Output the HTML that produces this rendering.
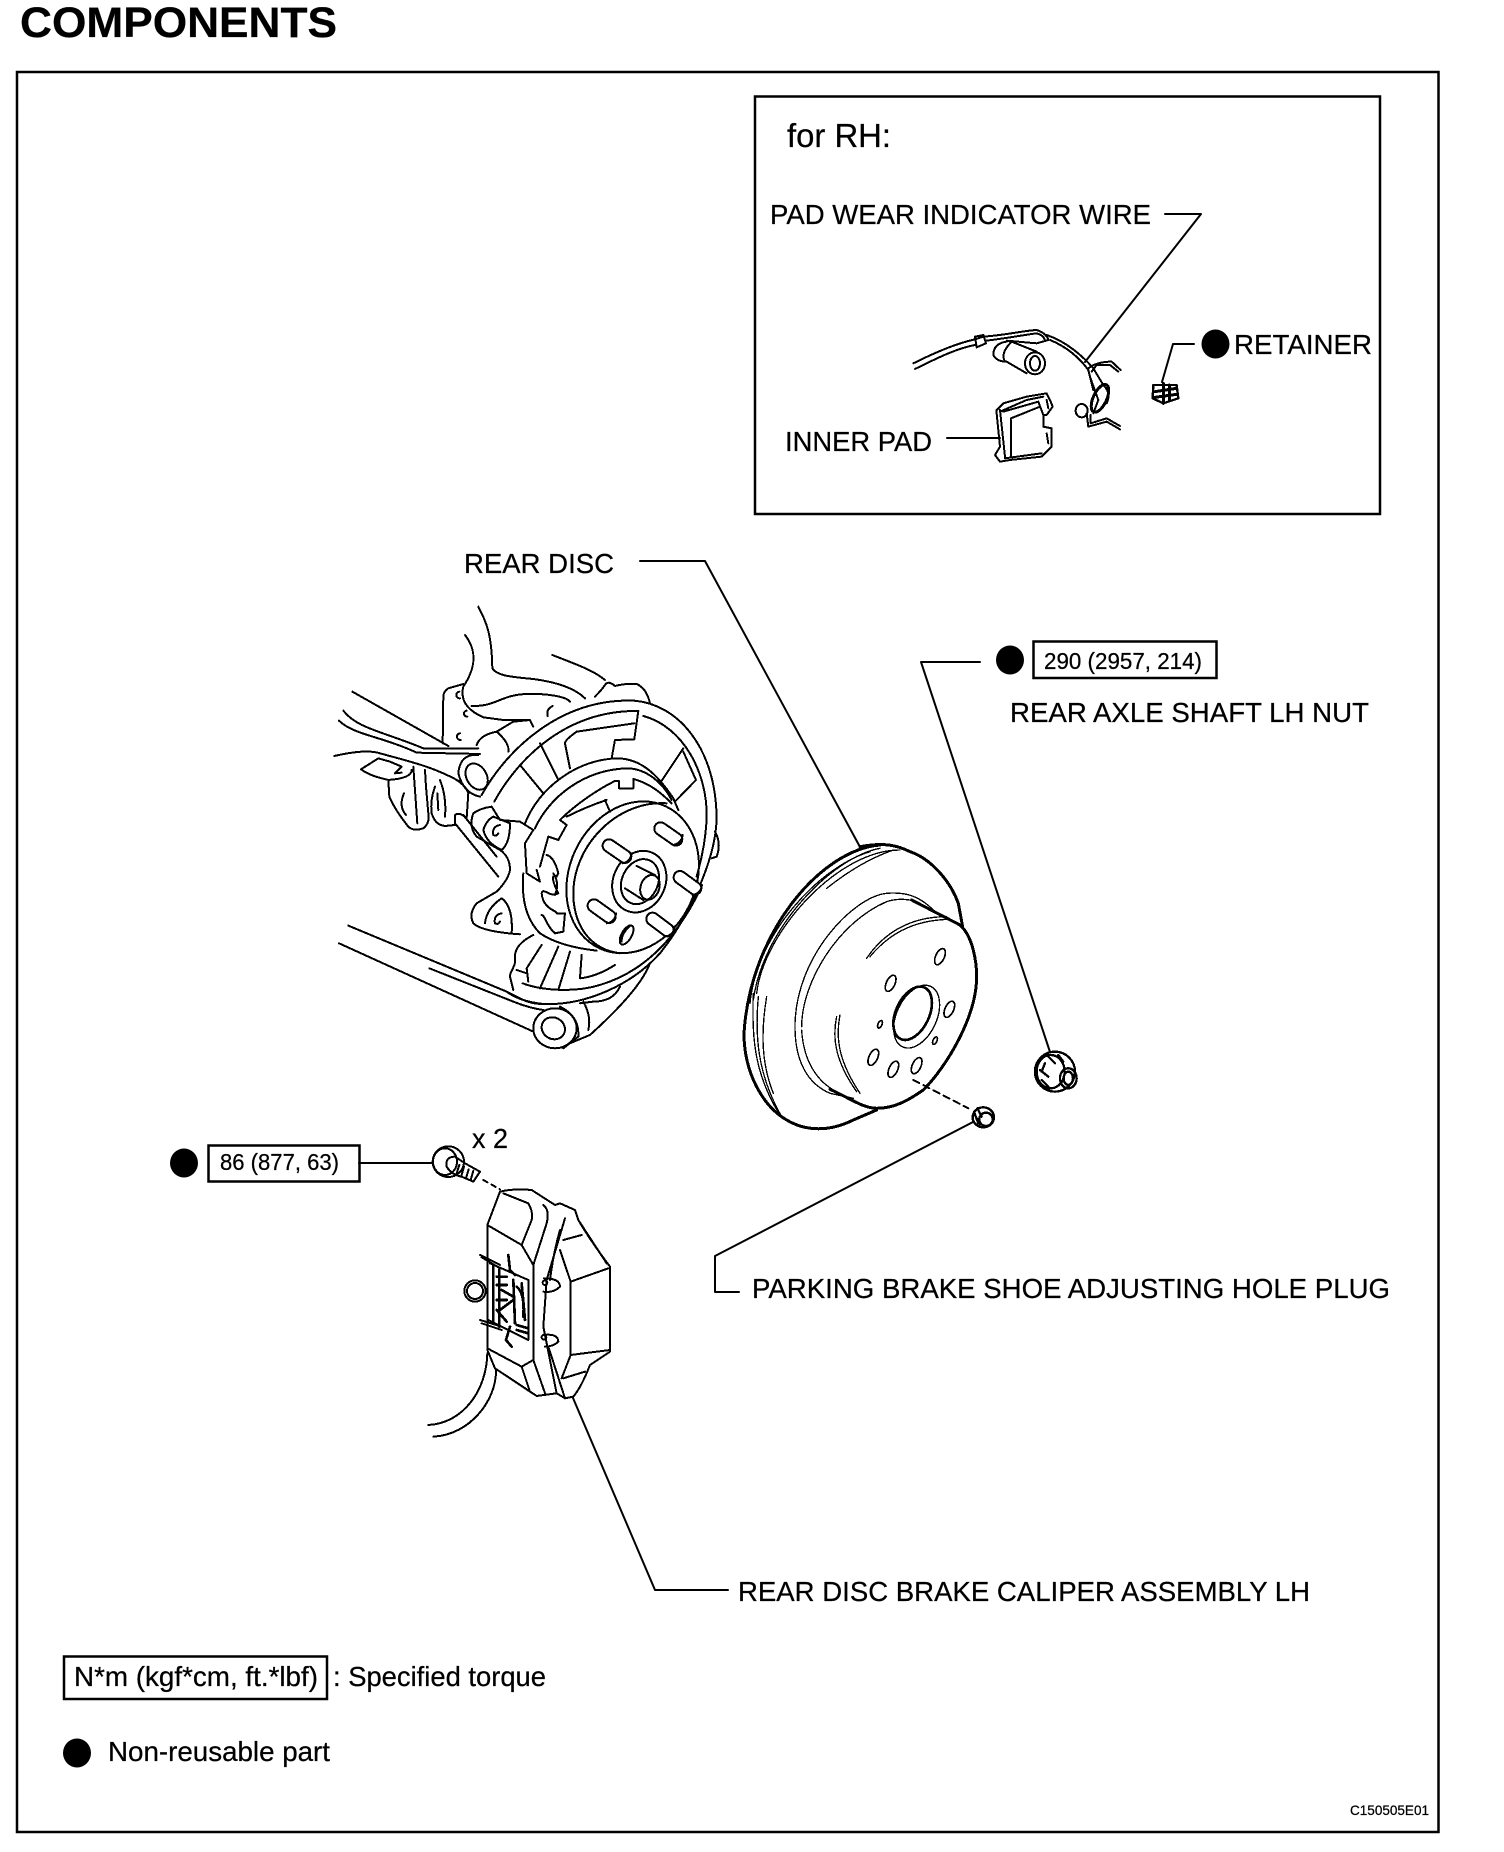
<!DOCTYPE html>
<html>
<head>
<meta charset="utf-8">
<style>
html,body{margin:0;padding:0;background:#fff;}
svg{display:block;position:absolute;left:0;top:0;}
text{font-family:"Liberation Sans",sans-serif;fill:#000;stroke:#000;stroke-width:.25px;}
.l{font-size:28px;}
.s{font-size:23px;}
.d{fill:none;stroke:#000;stroke-linecap:round;stroke-linejoin:round;}
</style>
</head>
<body>
<svg width="1504" height="1852" viewBox="0 0 1504 1852" xmlns="http://www.w3.org/2000/svg">
<rect width="1504" height="1852" fill="#fff"/>

<text x="20" y="37" font-weight="bold" font-size="43" textLength="317" lengthAdjust="spacingAndGlyphs">COMPONENTS</text>
<rect x="17" y="72" width="1421.5" height="1760" fill="none" stroke="#000" stroke-width="2.5"/>
<rect x="755" y="96.5" width="625" height="417.5" fill="none" stroke="#000" stroke-width="2.5"/>

<text x="787" y="147" font-size="33" textLength="104" lengthAdjust="spacingAndGlyphs">for RH:</text>
<text class="l" x="770" y="224" textLength="381" lengthAdjust="spacingAndGlyphs">PAD WEAR INDICATOR WIRE</text>
<text class="l" x="1234" y="354" textLength="138" lengthAdjust="spacingAndGlyphs">RETAINER</text>
<text class="l" x="785" y="451" textLength="147" lengthAdjust="spacingAndGlyphs">INNER PAD</text>
<text class="l" x="464" y="573" textLength="150" lengthAdjust="spacingAndGlyphs">REAR DISC</text>
<text class="s" x="1044" y="669" textLength="158" lengthAdjust="spacingAndGlyphs">290 (2957, 214)</text>
<text class="l" x="1010" y="722" textLength="359" lengthAdjust="spacingAndGlyphs">REAR AXLE SHAFT LH NUT</text>
<text class="s" x="220" y="1170" textLength="119" lengthAdjust="spacingAndGlyphs">86 (877, 63)</text>
<text class="l" x="472" y="1148" textLength="36" lengthAdjust="spacingAndGlyphs">x 2</text>
<text class="l" x="752" y="1298" textLength="638" lengthAdjust="spacingAndGlyphs">PARKING BRAKE SHOE ADJUSTING HOLE PLUG</text>
<text class="l" x="738" y="1601" textLength="572" lengthAdjust="spacingAndGlyphs">REAR DISC BRAKE CALIPER ASSEMBLY LH</text>
<text class="l" x="74" y="1686" textLength="244" lengthAdjust="spacingAndGlyphs">N*m (kgf*cm, ft.*lbf)</text>
<text class="l" x="333" y="1686" textLength="213" lengthAdjust="spacingAndGlyphs">: Specified torque</text>
<text class="l" x="108" y="1761" textLength="222" lengthAdjust="spacingAndGlyphs">Non-reusable part</text>
<text x="1350" y="1815" font-size="14" textLength="79" lengthAdjust="spacingAndGlyphs">C150505E01</text>

<rect x="1033.5" y="641.5" width="183" height="36.5" fill="none" stroke="#000" stroke-width="2.5"/>
<rect x="208.5" y="1145.5" width="151" height="36" fill="none" stroke="#000" stroke-width="2.5"/>
<rect x="64" y="1656.5" width="263" height="42.5" fill="none" stroke="#000" stroke-width="2.5"/>

<ellipse cx="1215.5" cy="344" rx="14" ry="14.5"/>
<ellipse cx="1010" cy="660" rx="14" ry="14.5"/>
<ellipse cx="184" cy="1163" rx="14" ry="14.5"/>
<ellipse cx="77" cy="1753" rx="14" ry="14.5"/>

<!-- leaders -->
<g class="d" stroke-width="2">
<polyline points="1165,214 1201,214 1085,362"/>
<polyline points="1194,344 1173,344 1162,382"/>
<polyline points="947,438 1000,438"/>
<polyline points="640,561 705,561 860,847"/>
<polyline points="980,662 921,662 1050,1052"/>
<polyline points="359,1163 433,1163"/>
<polyline points="973,1122 715,1256 715,1292 739,1292"/>
<polyline points="573,1398 655,1590 728,1590"/>
</g>

<!-- hub assembly -->
<g class="d" transform="translate(300,580) scale(0.3333)" stroke-width="6" shape-rendering="crispEdges">
<path d="M535 80C560 130 575 160 577 265C590 285 620 290 700 297C760 305 820 320 855 355"/>
<path d="M495 165C530 210 530 260 490 320C480 360 500 390 550 412L610 420L690 420"/>
<path d="M515 378C590 380 600 345 680 342C740 340 800 350 810 365"/>
<path d="M490 312L445 325Q430 335 430 350L428 490"/>
<path d="M478 335a10 10 0 1 0 2 20M500 392a8 8 0 1 0 2 18M480 460a10 10 0 1 0 2 20M758 378q-20 10 -15 30"/>
<path d="M757 225C820 250 880 270 915 300M885 350Q905 330 915 315Q925 300 945 318Q975 310 1010 312Q1040 325 1050 370"/>
<path d="M157 335L445 498M130 392C170 445 250 455 370 505Q400 505 535 505M117 422C160 465 250 470 350 518L540 522"/>
<path d="M103 528C160 515 210 510 240 520C330 545 400 560 480 605"/>
<path d="M535 525Q480 520 475 580Q490 640 540 650"/>
<ellipse cx="530" cy="590" rx="30" ry="42" transform="rotate(-30 530 590)"/>
<path d="M530 495Q540 465 590 455L640 425L690 420L700 440M590 455Q630 490 625 515"/>
<path d="M183 568L235 535L270 545L305 560L285 580L305 578M183 568Q205 585 245 595L265 600Q335 595 335 570M265 600L268 650Q285 690 325 740Q340 755 370 745Q390 730 385 700L378 620L375 570M340 560L352 730M312 640Q295 680 318 705"/>
<path d="M405 620Q390 660 395 700Q405 735 435 738L465 735M420 600Q440 650 435 710M412 640L415 690M465 735L465 705Q480 695 500 715L505 640M470 600Q500 620 505 640"/>
<path d="M465 730L595 890M490 705L590 830"/>
<path d="M575 680Q540 685 520 700Q505 740 530 770L600 810Q630 830 630 870Q625 900 590 935L530 970Q505 1000 520 1030Q545 1055 660 1063"/>
<path d="M600 735q-25 5 -20 30q10 5 15 -5M550 750Q560 720 580 710L630 730Q630 790 605 810Q560 790 550 750"/>
<path d="M555 1030Q560 985 605 955Q640 980 635 1060M605 1000q-25 5 -20 30q10 5 15 -5"/>
<path d="M545 645C620 510 780 355 1000 362C1130 370 1250 500 1250 720C1245 850 1160 1020 1080 1120C1000 1210 860 1280 720 1272C680 1270 650 1250 620 1235"/>
<path d="M583 665C640 560 780 390 1015 393M1030 408C1150 440 1225 580 1220 720C1215 810 1195 870 1190 890M1195 940C1140 1050 1050 1170 900 1215C820 1240 720 1230 668 1210"/>
<path d="M1015 393L1003 478L945 480L935 535M1003 430L830 455Q795 480 795 490L810 565M720 490L775 600M660 555L730 640M1150 505L1080 610M1150 515L1188 600L1125 665M1245 755Q1265 790 1250 830L1235 835"/>
<path d="M675 730C720 620 830 540 950 535C1020 535 1070 580 1120 655L1135 690M705 745C750 650 850 570 980 565C1040 565 1090 610 1115 660"/>
<path d="M780 720C830 670 900 625 945 603L957 603L957 625L1000 625L1000 597C1050 610 1085 640 1115 670M780 720L800 735L775 780L745 770L720 860M915 660L930 695M800 710Q860 680 920 660"/>
<path d="M575 680L600 720L660 725L700 750L675 790L680 880L720 905L710 870M670 880Q660 1000 720 1060Q780 1100 890 1112"/>
<path d="M740 825C760 830 770 860 775 880L770 890C750 880 760 910 775 940C750 955 730 920 725 940C730 990 770 990 770 1000L795 1000L790 1055L765 1060C740 1040 735 1005 725 1005M760 880Q780 910 765 945"/>
<ellipse cx="998" cy="892" rx="190" ry="235" transform="rotate(25 998 892)"/>
<path d="M1100 670C950 660 815 800 820 950C825 1050 880 1110 960 1120"/>
<ellipse cx="1018" cy="905" rx="78" ry="95" transform="rotate(25 1018 905)"/>
<ellipse cx="1020" cy="905" rx="54" ry="70" transform="rotate(25 1020 905)"/>
<ellipse cx="1050" cy="922" rx="28" ry="38" transform="rotate(20 1050 922)"/>
<path d="M1010 858L1065 885M975 925L1030 960"/>
<g stroke-width="44"><path d="M1082 746L1128 778M927 797L975 830M1140 892L1185 925M882 977L928 1010M1058 1017L1102 1050"/></g>
<g stroke="#fff" stroke-width="32"><path d="M1082 746L1128 778M927 797L975 830M1140 892L1185 925M882 977L928 1010M1058 1017L1102 1050"/></g>
<path d="M1120 795Q1145 790 1148 765M968 850Q992 845 995 820M1178 945Q1204 940 1206 915M921 1030Q946 1025 948 1000M1095 1070Q1122 1065 1124 1040"/>
<ellipse cx="980" cy="1065" rx="15" ry="32" transform="rotate(30 980 1065)"/>
<path d="M988 1040Q965 1060 965 1085"/>
<path d="M700 1065C670 1080 645 1100 645 1130C650 1160 630 1170 630 1190L640 1230M725 1095L680 1165L685 1205M775 1100L720 1225M810 1115L775 1230M845 1125L840 1195Q890 1190 945 1155M650 1170L680 1180"/>
<path d="M1050 1150Q1020 1230 870 1365L810 1390M850 1265Q875 1310 865 1350M960 1220Q940 1265 880 1265L840 1270"/>
<path d="M145 1037L620 1235Q660 1265 730 1272M117 1090L700 1355M388 1165L640 1265Q690 1285 730 1290"/>
<ellipse cx="765" cy="1345" rx="65" ry="60"/>
<ellipse cx="760" cy="1345" rx="36" ry="32" transform="rotate(30 760 1345)"/>
<path d="M780 1280Q840 1310 835 1370L790 1405"/>
</g>

<!-- rotor -->
<g class="d" transform="translate(720,800) scale(0.3333)" stroke-width="4" shape-rendering="crispEdges">
<g stroke-width="9">
<path d="M420 140C500 125 540 140 570 155C630 175 690 240 715 310L728 380"/>
<path d="M480 135C300 150 90 400 72 700C72 820 130 920 200 960C250 990 320 1000 400 960L470 930"/>
<path d="M575 300L720 375C760 410 770 490 770 530C770 650 680 800 610 870C560 905 520 925 470 925C430 925 390 895 330 868"/>
</g>
<path d="M540 150C350 150 130 400 110 580M450 155C300 200 110 400 90 610M480 145C340 170 130 380 100 600M100 580C95 700 100 820 180 945M115 590C105 700 110 820 185 950M140 590C125 680 120 780 160 880M320 265C390 210 450 175 520 150"/>
<path d="M640 330C600 290 560 275 500 280C400 290 225 470 225 680C225 780 260 850 330 880L400 895"/>
<path d="M245 680C245 550 350 370 500 305C530 295 570 295 600 310M245 690C250 780 290 850 360 880"/>
<path d="M440 475C490 400 570 350 680 350M450 470C500 410 570 360 690 358M360 645C345 720 360 790 420 880M350 650C335 720 350 790 410 875"/>
<ellipse cx="578" cy="640" rx="50" ry="85" transform="rotate(25 578 640)" stroke-width="8"/>
<ellipse cx="590" cy="650" rx="60" ry="100" transform="rotate(25 590 650)"/>
<g stroke-width="5">
<ellipse cx="660" cy="470" rx="13" ry="26" transform="rotate(25 660 470)"/>
<ellipse cx="512" cy="550" rx="13" ry="26" transform="rotate(25 512 550)"/>
<ellipse cx="688" cy="628" rx="13" ry="26" transform="rotate(25 688 628)"/>
<ellipse cx="460" cy="772" rx="13" ry="26" transform="rotate(25 460 772)"/>
<ellipse cx="520" cy="808" rx="13" ry="26" transform="rotate(25 520 808)"/>
<ellipse cx="590" cy="797" rx="13" ry="26" transform="rotate(25 590 797)"/>
<ellipse cx="480" cy="673" rx="6" ry="12" transform="rotate(25 480 673)"/>
<ellipse cx="645" cy="722" rx="6" ry="12" transform="rotate(25 645 722)"/>
</g>
<path d="M580 840L745 925" stroke-width="6" stroke-dasharray="20 14"/>
<g stroke-width="7">
<ellipse cx="790" cy="952" rx="32" ry="30"/>
<ellipse cx="798" cy="958" rx="20" ry="20"/>
<path d="M762 935L775 970M772 925L785 950M765 945L780 975"/>
<ellipse cx="1005" cy="815" rx="60" ry="60"/>
<ellipse cx="992" cy="815" rx="42" ry="50"/>
<ellipse cx="1045" cy="835" rx="25" ry="30"/>
<ellipse cx="1045" cy="835" rx="14" ry="20"/>
<path d="M960 810L985 830M965 840L985 860M985 770L1005 790M1015 765L1030 785M975 790L965 815"/>
</g>
</g>

<!-- caliper -->
<g class="d" transform="translate(400,1130) scale(0.3333)" stroke-width="6" shape-rendering="crispEdges">
<ellipse cx="145" cy="95" rx="47" ry="46"/>
<ellipse cx="135" cy="95" rx="36" ry="40"/>
<path d="M165 80Q135 80 140 110Q155 135 185 140L220 155L240 125L195 100Z"/>
<path d="M178 105L170 130M192 110L184 138M206 118L198 145M220 122L212 150" stroke-width="6"/>
<path d="M250 150L300 178" stroke-dasharray="14 14"/>
<path d="M300 185Q340 175 395 180L465 225L480 220L525 240L535 270Q570 330 630 410L630 665L570 705Q545 770 520 800L495 805L470 790L410 798L285 715L262 660L262 285Z"/>
<path d="M262 285L365 345L400 405L400 690L365 710L262 655M310 190L385 220Q400 245 395 270L365 345M430 225Q450 240 440 280L400 405M400 690L437 795M365 710L390 785"/>
<path d="M495 265L440 450L430 590L470 790M480 300Q460 370 450 450M445 650L495 805M490 330L545 315M480 360L512 455L625 415M512 455L512 675L630 660M512 675L485 745M490 745L555 725M535 270L620 400"/>
<path d="M432 445Q480 445 480 470Q460 490 430 485M430 615Q475 610 475 635Q460 650 435 650"/>
<circle cx="435" cy="458" r="7"/><circle cx="432" cy="622" r="7"/>
<ellipse cx="225" cy="483" rx="32" ry="32"/>
<ellipse cx="225" cy="483" rx="24" ry="24"/>
<path d="M240 375L300 405M245 382L300 415M240 570L305 590M245 580L305 600M270 400L385 450L385 630L265 570"/>
<g stroke-width="8">
<path d="M280 410L280 580M298 420L298 590M290 440L320 440M290 465L320 465M290 510L320 510M290 540L320 575M305 480L340 500M340 450L345 580M365 460L375 570M325 375L330 420L345 435M330 590L318 630L335 650M300 540L340 510M350 600L385 610M350 585L385 595M350 470Q375 490 370 560"/>
</g>
<path d="M262 670C260 780 190 880 85 885M288 720C290 810 210 915 100 920"/>
</g>

<!-- inset parts -->
<g class="d" transform="translate(880,300) scale(0.3333)" stroke-width="6" shape-rendering="crispEdges">
<path d="M100 190C170 155 230 130 285 118L310 110C380 105 430 92 470 90Q500 100 505 120L470 130L380 122"/>
<path d="M105 207C170 175 230 145 285 135M318 122C380 115 430 105 470 100Q490 105 495 120"/>
<path d="M510 120C560 140 600 175 625 210L640 270M500 105C560 125 610 170 640 205L670 255"/>
<path d="M285 110L310 105L318 130L290 142Z"/>
<path d="M380 125Q340 130 340 165Q350 185 380 185L440 220M395 125Q360 160 375 185M395 125L470 155"/>
<ellipse cx="465" cy="190" rx="30" ry="33"/>
<ellipse cx="465" cy="190" rx="15" ry="22"/>
<path d="M625 205Q650 185 695 185L722 210M635 215L650 195L690 195L715 215"/>
<ellipse cx="660" cy="295" rx="20" ry="45" transform="rotate(25 660 295)" stroke-width="9"/>
<path d="M630 230L655 300L640 340M670 255Q695 280 680 310"/>
<ellipse cx="605" cy="332" rx="18" ry="20"/>
<path d="M620 340L625 380L680 365L720 388M632 345L632 370L680 355L720 378"/>
<path d="M350 330L370 310L440 290L500 280L510 300L518 320L500 345L490 345L490 380L515 385L515 440L485 470L390 480L360 485L345 465L360 440L350 340Z"/>
<path d="M360 335L440 300L490 290M370 335L475 305L490 345M393 360L393 470M393 355L480 320M360 330L375 470M375 475L485 460M500 300L505 325M500 400L505 430"/>
<path d="M820 255L890 255L895 295L850 310L818 295Z" stroke-width="7"/>
<path d="M825 275L890 265M825 292L890 283M850 250L850 310M868 255L868 300" stroke-width="9"/>
</g>
</svg>
</body>
</html>
